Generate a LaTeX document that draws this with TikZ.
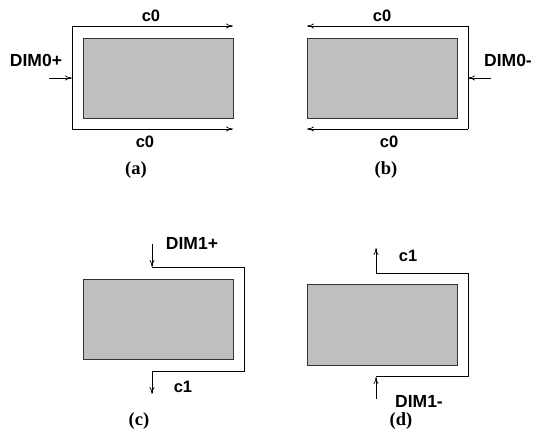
\documentclass[tikz,border=0pt]{standalone}
\usepackage{fontspec}
\setmainfont{Liberation Serif}
\setsansfont{Liberation Sans}
\usetikzlibrary{arrows.meta}
\begin{document}
\begin{tikzpicture}[x=1pt,y=-1pt,
  blk/.style={draw=black!80,fill=black!25,line width=0.8pt,minimum width=150,minimum height=80,inner sep=0pt},
  wire/.style={draw=black,line width=0.7pt},
  arr/.style={wire,-{To[length=7pt,width=5pt]}},
  lbl/.style={font=\sffamily\bfseries\fontsize{17.5}{19}\selectfont,inner sep=0pt},
  clbl/.style={font=\sffamily\bfseries\fontsize{16.5}{18}\selectfont,inner sep=0pt},
  captxt/.style={font=\bfseries\fontsize{18.5}{20}\selectfont,inner sep=0pt}]
\useasboundingbox (0,0) rectangle (535,438);
% (a)
\node[blk] (ra) at (158,78) {};
\coordinate (a1) at (233,26);
\coordinate (a2) at (72,26);
\coordinate (a3) at (72,129);
\coordinate (a4) at (233,129);
\coordinate (ain) at (49,78);
\coordinate (aj) at (72,78);
\draw[arr] (a2) -- (a1);
\draw[wire] (a2) -- (a3);
\draw[arr] (a3) -- (a4);
\draw[arr] (ain) -- (aj);
\node[lbl] (la) at (36,60) {DIM0+};
\node[clbl] (ca1) at (151,15.5) {c0};
\node[clbl] (ca2) at (145,141.5) {c0};
\node[captxt] (capa) at (136,170.5) {(a)};
% (b)
\node[blk] (rb) at (382,78) {};
\coordinate (b1) at (307,26);
\coordinate (b2) at (468,26);
\coordinate (b3) at (468,129);
\coordinate (b4) at (307,129);
\coordinate (bin) at (491,78);
\coordinate (bj) at (468,78);
\draw[arr] (b2) -- (b1);
\draw[wire] (b2) -- (b3);
\draw[arr] (b3) -- (b4);
\draw[arr] (bin) -- (bj);
\node[lbl] (lb) at (508,60) {DIM0-};
\node[clbl] (cb1) at (382,15.5) {c0};
\node[clbl] (cb2) at (389,141.5) {c0};
\node[captxt] (capb) at (386,170.5) {(b)};
% (c)
\node[blk] (rc) at (158,319) {};
\coordinate (c0) at (152,244);
\coordinate (c1) at (152,267);
\coordinate (c2) at (244,267);
\coordinate (c3) at (244,371);
\coordinate (c4) at (152,371);
\coordinate (c5) at (152,394);
\draw[arr] (c0) -- (c1);
\draw[wire] (c1) -- (c2) -- (c3) -- (c4);
\draw[arr] (c4) -- (c5);
\node[lbl] (lc) at (192,243) {DIM1+};
\node[clbl] (cc) at (183,387) {c1};
\node[captxt] (capc) at (139,421) {(c)};
% (d)
\node[blk,minimum height=81] (rd) at (382,324.5) {};
\coordinate (d0) at (376,273);
\coordinate (d1) at (376,248);
\coordinate (d2) at (468,273);
\coordinate (d3) at (468,376);
\coordinate (d4) at (376,376);
\coordinate (d5) at (376,399);
\coordinate (d6) at (376,377);
\draw[arr] (d0) -- (d1);
\draw[wire] (d0) -- (d2) -- (d3) -- (d4);
\draw[arr] (d5) -- (d6);
\node[lbl] (ld) at (419,401) {DIM1-};
\node[clbl] (cd) at (408,256) {c1};
\node[captxt] (capd) at (401,421) {(d)};
\end{tikzpicture}
\end{document}
